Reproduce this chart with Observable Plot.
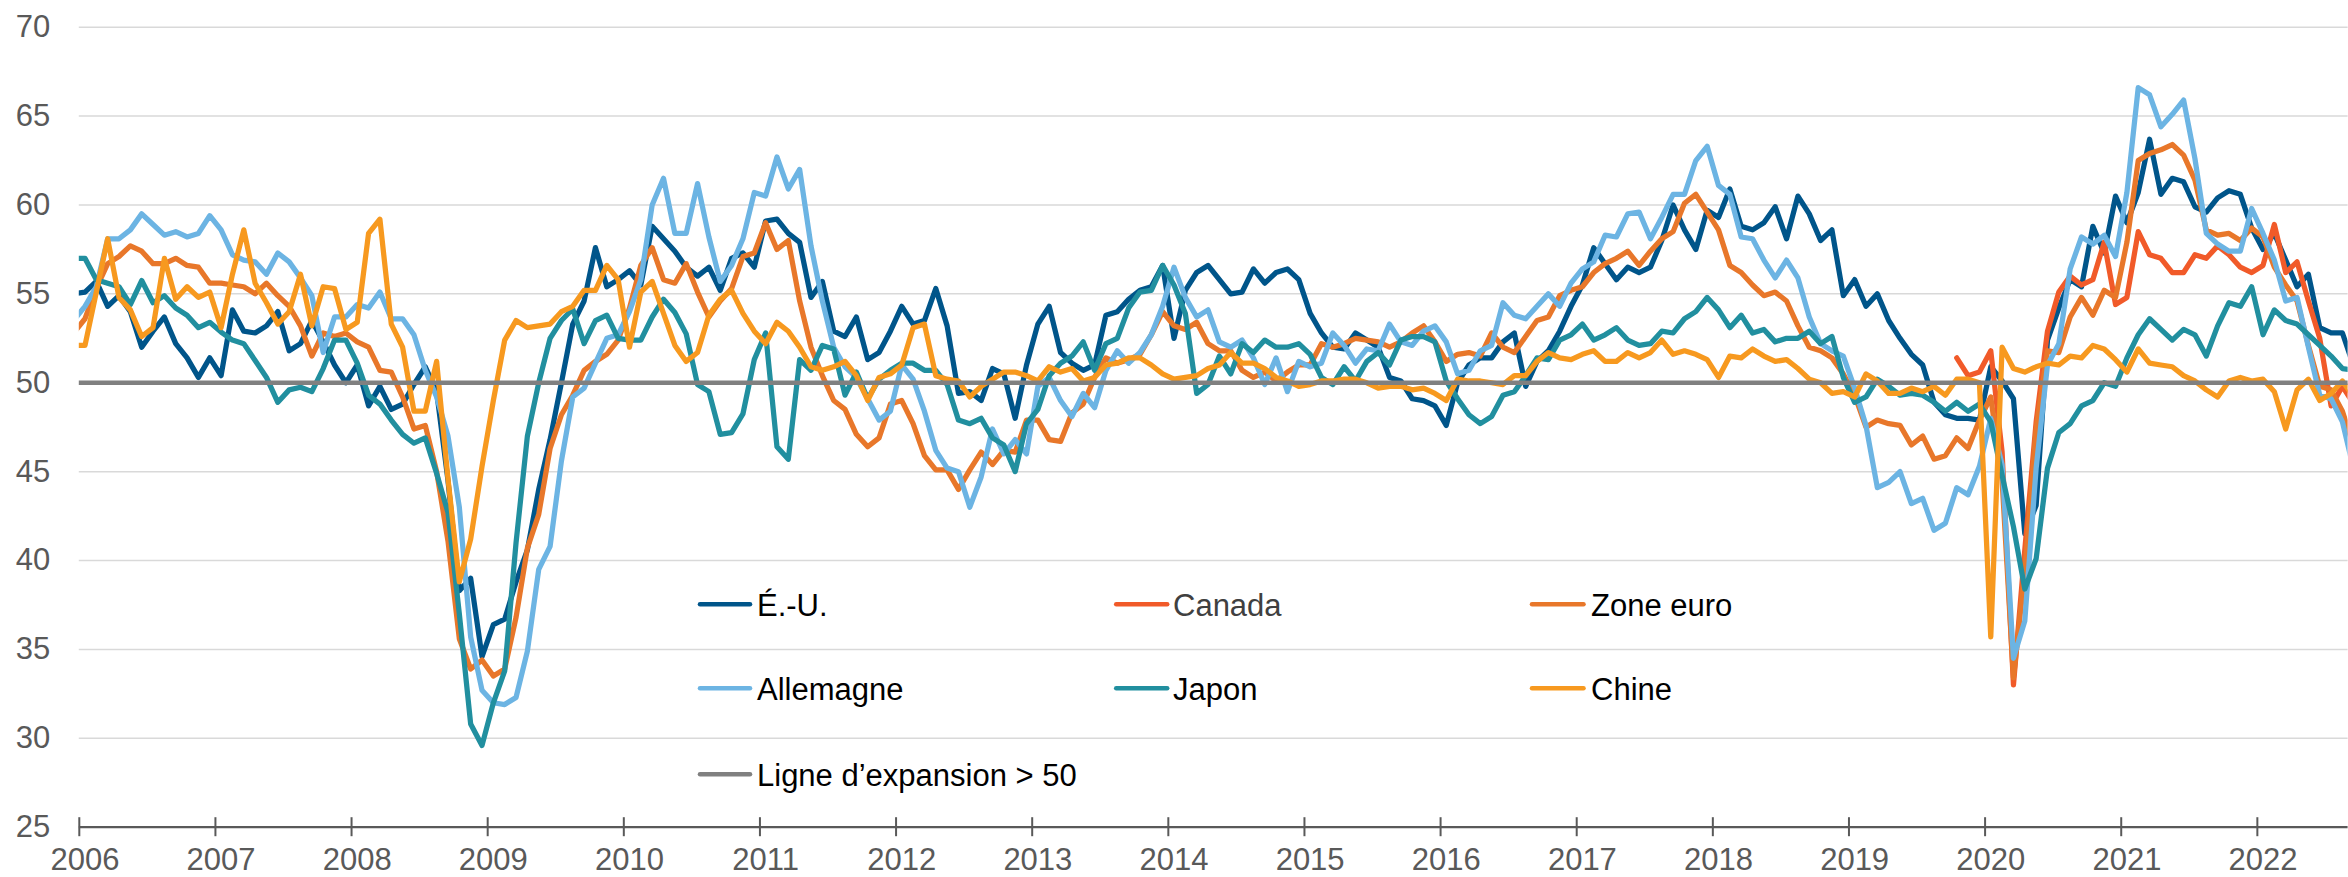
<!DOCTYPE html>
<html>
<head>
<meta charset="utf-8">
<script src="https://cdn.jsdelivr.net/npm/d3@7"></script>
<script src="https://cdn.jsdelivr.net/npm/@observablehq/plot@0.6"></script>
<style>
html, body { margin: 0; padding: 0; background: #fff; overflow: hidden; }
#chart { position: relative; width: 2348px; height: 877px; }
#chart svg { overflow: hidden; }
</style>
</head>
<body>
<div id="chart"></div>
<script>
// Monthly manufacturing PMI values, one per month slot, first slot = Dec 2005 (index -1), Jan 2006 = 0
const firstSlot = -1;

const usValues = [
  55.0,
  55.1, 55.7, 54.3, 54.9, 54.0, 52.0, 52.9, 53.7, 52.2, 51.4, 50.3, 51.4,
  50.4, 54.1, 52.9, 52.8, 53.2, 54.0, 51.8, 52.2, 53.5, 52.3, 51.0, 50.0,
  51.0, 48.7, 49.8, 48.5, 48.8, 49.9, 50.9, 49.5, 44.5, 38.3, 39.0, 34.6,
  36.4, 36.7, 38.8, 40.6, 44.0, 46.8, 50.0, 53.3, 54.6, 57.6, 55.4, 55.8,
  56.3, 55.5, 58.8, 58.1, 57.4, 56.5, 56.0, 56.5, 55.2, 57.0, 57.3, 56.5,
  59.1, 59.2, 58.4, 57.9, 54.8, 55.7, 52.9, 52.6, 53.7, 51.3, 51.7, 52.9,
  54.3, 53.3, 53.5, 55.3, 53.2, 49.4, 49.5, 49.0, 50.8, 50.5, 48.0, 51.0,
  53.3, 54.3, 51.7, 51.1, 50.7, 51.0, 53.8, 54.0, 54.7, 55.2, 55.4, 56.6,
  52.5, 55.2, 56.2, 56.6, 55.8, 55.0, 55.1, 56.4, 55.6, 56.2, 56.4, 55.8,
  53.9, 52.8, 52.0, 51.9, 52.8, 52.4, 52.0, 50.3, 50.1, 49.1, 49.0, 48.7,
  47.6, 50.0, 51.0, 51.4, 51.4, 52.3, 52.8, 49.8, 51.2, 51.8, 52.9, 54.3,
  55.5, 57.6, 56.7, 55.8, 56.5, 56.2, 56.5, 58.0, 60.0, 58.6, 57.5, 59.7,
  59.3, 60.9, 58.8, 58.6, 59.0, 59.9, 58.1, 60.5, 59.5, 58.0, 58.6, 54.9,
  55.8, 54.3, 55.0, 53.5, 52.5, 51.6, 51.0, 48.9, 48.2, 48.0, 48.0, 47.9,
  50.9, 50.1, 49.1, 41.5, 43.1, 52.4, 54.2, 55.8, 55.4, 58.8, 57.3, 60.5,
  59.0, 60.7, 63.7, 60.6, 61.5, 61.3, 59.9, 59.6, 60.4, 60.8, 60.6, 58.7,
  57.5, 58.4, 56.9, 55.4, 56.1, 53.1, 52.8, 52.8, 50.9
];

const canadaStartSlot = 165; // Oct 2019
const canadaValues = [
  51.4, 50.4, 50.6,
  51.8, 46.1, 33.0, 40.6, 47.8, 52.9, 55.1, 56.0, 55.5, 55.8, 57.9, 54.4,
  54.8, 58.5, 57.2, 57.0, 56.2, 56.2, 57.2, 57.0, 57.7, 57.2, 56.5, 56.2,
  56.6, 58.9, 56.2, 56.8, 54.6, 52.5, 48.7, 49.8, 48.8
];

const euroValues = [
  52.8,
  53.6, 55.3, 56.7, 57.1, 57.7, 57.4, 56.7, 56.7, 57.0, 56.6, 56.5, 55.6,
  55.6, 55.5, 55.4, 55.0, 55.6, 54.9, 54.3, 53.2, 51.5, 52.8, 52.6, 52.8,
  52.3, 52.0, 50.7, 50.6, 49.2, 47.4, 47.6, 45.0, 41.1, 35.6, 33.9, 34.4,
  33.5, 33.9, 36.8, 40.7, 42.6, 46.3, 48.2, 49.3, 50.7, 51.2, 51.6, 52.4,
  54.2, 56.6, 57.6, 55.8, 55.6, 56.7, 55.1, 53.7, 54.6, 55.3, 57.1, 57.3,
  59.0, 57.5, 58.0, 54.6, 52.0, 50.4, 49.0, 48.5, 47.1, 46.4, 46.9, 48.8,
  49.0, 47.7, 45.9, 45.1, 45.1, 44.0, 45.1, 46.1, 45.4, 46.2, 46.1, 47.9,
  47.9, 46.8, 46.7, 48.3, 48.8, 50.3, 51.4, 51.1, 51.3, 51.6, 52.7, 54.0,
  53.2, 53.0, 53.4, 52.2, 51.8, 51.8, 50.7, 50.3, 50.6, 50.1, 50.6, 51.0,
  51.0, 52.2, 52.0, 52.2, 52.5, 52.4, 52.3, 52.0, 52.3, 52.8, 53.2, 52.3,
  51.2, 51.6, 51.7, 51.5, 52.8, 52.0, 51.7, 52.6, 53.5, 53.7, 54.9, 55.2,
  55.4, 56.2, 56.7, 57.0, 57.4, 56.6, 57.4, 58.1, 58.5, 60.1, 60.6, 59.6,
  58.6, 56.6, 56.2, 55.5, 54.9, 55.1, 54.6, 53.2, 52.0, 51.8, 51.4, 50.5,
  49.3, 47.5, 47.9, 47.7, 47.6, 46.5, 47.0, 45.7, 45.9, 46.9, 46.3, 47.9,
  49.2, 44.5, 33.4, 39.4, 47.4, 51.8, 51.7, 53.7, 54.8, 53.8, 55.2, 54.8,
  57.9, 62.5, 62.9, 63.1, 63.4, 62.8, 61.4, 58.6, 58.3, 58.4, 58.0, 58.7,
  58.2, 56.5, 55.5, 54.6, 52.1, 49.8, 49.6, 48.4, 46.4
];

const germanyValues = [
  53.5,
  54.3, 55.4, 58.1, 58.1, 58.6, 59.5, 58.9, 58.3, 58.5, 58.2, 58.4, 59.4,
  58.6, 57.2, 56.9, 56.8, 56.1, 57.3, 56.8, 55.9, 54.9, 51.7, 53.7, 53.7,
  54.4, 54.2, 55.1, 53.6, 53.6, 52.7, 50.7, 49.2, 47.0, 43.0, 35.7, 32.7,
  32.0, 31.9, 32.3, 34.9, 39.5, 40.8, 45.6, 49.2, 49.7, 51.1, 52.5, 52.7,
  54.0, 55.8, 60.0, 61.5, 58.4, 58.4, 61.2, 58.2, 55.7, 56.6, 58.1, 60.7,
  60.5, 62.7, 60.9, 62.0, 57.7, 54.6, 52.0, 50.9, 50.3, 49.1, 47.9, 48.4,
  51.0, 50.2, 48.4, 46.2, 45.2, 45.0, 43.0, 44.7, 47.4, 46.0, 46.8, 46.0,
  49.8, 50.3, 49.0, 48.1, 49.4, 48.6, 50.7, 51.8, 51.1, 51.7, 52.7, 54.3,
  56.5, 54.8, 53.7, 54.1, 52.3, 52.0, 52.4, 51.4, 49.9, 51.4, 49.5, 51.2,
  50.9, 51.1, 52.8, 52.1, 51.1, 51.9, 51.8, 53.3, 52.3, 52.1, 52.9, 53.2,
  52.3, 50.5, 50.7, 51.8, 52.1, 54.5, 53.8, 53.6, 54.3, 55.0, 54.3, 55.6,
  56.4, 56.8, 58.3, 58.2, 59.5, 59.6, 58.1, 59.3, 60.6, 60.6, 62.5, 63.3,
  61.1, 60.6, 58.2, 58.1, 56.9, 55.9, 56.9, 55.9, 53.7, 52.2, 51.8, 51.5,
  49.7, 47.6, 44.1, 44.4, 45.0, 43.2, 43.5, 41.7, 42.1, 44.1, 43.7, 45.3,
  48.0, 45.4, 34.5, 36.6, 45.2, 51.0, 52.2, 56.4, 58.2, 57.8, 58.3, 57.1,
  60.7, 66.6, 66.2, 64.4, 65.1, 65.9, 62.6, 58.4, 57.8, 57.4, 57.4, 59.8,
  58.4, 56.9, 54.6, 54.8, 52.0, 49.3, 49.1, 47.8, 45.1
];

const japanValues = [
  57.0,
  57.0, 55.8, 55.6, 55.4, 54.4, 55.75, 54.5, 54.9, 54.2, 53.8, 53.1, 53.4,
  52.85, 52.4, 52.2, 51.25, 50.3, 48.9, 49.6, 49.75, 49.5, 50.8, 52.4, 52.4,
  51.1, 49.3, 48.8, 47.9, 47.1, 46.6, 46.9, 44.9, 42.7, 37.0, 30.8, 29.6,
  32.0, 33.8, 41.0, 47.0, 50.0, 52.5, 53.5, 54.15, 52.2, 53.5, 53.8, 52.5,
  52.4, 52.4, 53.7, 54.7, 53.95, 52.75, 49.9, 49.5, 47.1, 47.2, 48.25, 51.3,
  52.8, 46.4, 45.7, 51.3, 50.7, 52.1, 51.9, 49.3, 50.6, 49.1, 50.2, 50.7,
  51.1, 51.1, 50.7, 50.7, 49.9, 47.9, 47.7, 48.0, 46.9, 46.5, 45.0, 47.7,
  48.5, 50.4, 51.1, 51.5, 52.3, 50.7, 52.2, 52.5, 54.2, 55.1, 55.2, 56.6,
  55.5, 53.9, 49.4, 49.9, 51.5, 50.5, 52.2, 51.7, 52.4, 52.0, 52.0, 52.2,
  51.6, 50.3, 49.9, 50.9, 50.1, 51.2, 51.7, 51.0, 52.4, 52.6, 52.6, 52.3,
  50.1, 49.1, 48.2, 47.7, 48.1, 49.3, 49.5, 50.4, 51.4, 51.3, 52.4, 52.7,
  53.3, 52.4, 52.7, 53.1, 52.4, 52.1, 52.2, 52.9, 52.8, 53.6, 54.0, 54.8,
  54.1, 53.1, 53.8, 52.8, 53.0, 52.3, 52.5, 52.5, 52.9, 52.2, 52.6, 50.3,
  48.9, 49.2, 50.2, 49.8, 49.3, 49.4, 49.3, 48.9, 48.4, 48.9, 48.4, 48.8,
  47.8, 44.8, 41.9, 38.4, 40.1, 45.2, 47.2, 47.7, 48.7, 49.0, 50.0, 49.8,
  51.4, 52.7, 53.6, 53.0, 52.4, 53.0, 52.7, 51.5, 53.2, 54.5, 54.3, 55.4,
  52.7, 54.1, 53.5, 53.3, 52.7, 52.1, 51.5, 50.8, 50.7
];

const chinaValues = [
  52.1,
  52.1, 55.1, 58.1, 54.8, 54.1, 52.6, 53.1, 57.0, 54.7, 55.4, 54.8, 55.1,
  53.1, 56.1, 58.6, 55.6, 54.5, 53.3, 54.0, 56.1, 53.2, 55.4, 55.3, 53.0,
  53.4, 58.4, 59.2, 53.3, 52.0, 48.4, 48.4, 51.2, 44.6, 38.8, 41.2, 45.3,
  49.0, 52.4, 53.5, 53.1, 53.2, 53.3, 54.0, 54.3, 55.2, 55.2, 56.6, 55.8,
  52.0, 55.1, 55.7, 53.9, 52.1, 51.2, 51.7, 53.8, 54.7, 55.2, 53.9, 52.9,
  52.2, 53.4, 52.9, 52.0, 50.9, 50.7, 50.9, 51.2, 50.4, 49.0, 50.3, 50.5,
  51.0, 53.1, 53.3, 50.4, 50.2, 50.1, 49.2, 49.8, 50.2, 50.6, 50.6, 50.4,
  50.1, 50.9, 50.6, 50.8, 50.1, 50.3, 51.0, 51.1, 51.4, 51.4, 51.0, 50.5,
  50.2, 50.3, 50.4, 50.8, 51.0, 51.7, 51.1, 51.1, 50.8, 50.3, 50.1, 49.8,
  49.9, 50.1, 50.1, 50.2, 50.2, 50.0, 49.7, 49.8, 49.8, 49.6, 49.7, 49.4,
  49.0, 50.2, 50.1, 50.1, 50.0, 49.9, 50.4, 50.4, 51.2, 51.7, 51.4, 51.3,
  51.6, 51.8, 51.2, 51.2, 51.7, 51.4, 51.7, 52.4, 51.6, 51.8, 51.6, 51.3,
  50.3, 51.5, 51.4, 51.9, 51.5, 51.2, 51.3, 50.8, 50.2, 50.0, 49.4, 49.5,
  49.2, 50.5, 50.1, 49.4, 49.4, 49.7, 49.5, 49.8, 49.3, 50.2, 50.2, 50.0,
  35.7, 52.0, 50.8, 50.6, 50.9, 51.1, 51.0, 51.5, 51.4, 52.1, 51.9, 51.3,
  50.6, 51.9, 51.1, 51.0, 50.9, 50.4, 50.1, 49.6, 49.2, 50.1, 50.3, 50.1,
  50.2, 49.5, 47.4, 49.6, 50.2, 49.0, 49.4, 50.1, 49.2
];

const expansionLevel = 50;
const yearLabels = d3.range(2006, 2023);
const yTicks = d3.range(25, 71, 5);

const seriesNames = ["É.-U.", "Canada", "Zone euro", "Allemagne", "Japon", "Chine"];
const seriesColors = ["#00558A", "#F15A29", "#E8772A", "#6CB4E3", "#218F9F", "#F7991F"];
const seriesValues = [usValues, canadaValues, euroValues, germanyValues, japanValues, chinaValues];
const seriesStarts = [firstSlot, canadaStartSlot, firstSlot, firstSlot, firstSlot, firstSlot];
const expansionLabel = "Ligne d\u2019expansion > 50";
const expansionColor = "#808080";

const rows = seriesNames.map((name, k) =>
  seriesValues[k].map((v, i) => ({series: name, slot: seriesStarts[k] + i + 0.5, value: v}))
);

const font = "'Liberation Sans', Arial, Helvetica, sans-serif";
const W = 2348, H = 877;
const mLeft = 78.8, mTop = 26.7, mBottom = 50.3;
const slots = 200; // Jan 2006 .. Aug 2022 slots inside the plot area
const mRight = W - (mLeft + slots * 11.344);
const pxPerUnit = (H - mTop - mBottom) / 45;

const plot = Plot.plot({
  width: W,
  height: H,
  marginLeft: mLeft,
  marginRight: mRight,
  marginTop: mTop,
  marginBottom: mBottom,
  x: {type: "linear", domain: [0, slots], axis: null},
  y: {type: "linear", domain: [25, 70], axis: null},
  style: {fontFamily: font, background: "#fff", overflow: "hidden"},
  marks: [
    Plot.ruleY(yTicks.filter(d => d > 25 && d !== expansionLevel), {stroke: "#D9D9D9", strokeWidth: 1.5}),
    Plot.ruleY([25], {stroke: "#595959", strokeWidth: 2.3}),
    Plot.ruleX(yearLabels, {x: d => (d - 2006) * 12, y1: 25 - 9.5 / pxPerUnit, y2: 25 + 9.5 / pxPerUnit, stroke: "#595959", strokeWidth: 2}),
    Plot.text(yearLabels, {x: d => (d - 2006) * 12 + 0.5, y: 25, text: d => String(d), lineAnchor: "bottom", dy: 43, fontSize: 31, fill: "#595959", fontFamily: font}),
    Plot.text(yTicks, {y: d => d, text: d => String(d), frameAnchor: "left", textAnchor: "end", lineAnchor: "middle", dx: -29, fontSize: 31, fill: "#595959", fontFamily: font}),
    ...rows.map((data, k) => Plot.line(data, {
      x: "slot", y: "value", stroke: seriesColors[k], strokeWidth: 5.25,
      strokeLinejoin: "round", strokeLinecap: "round", clip: true
    })),
    Plot.ruleY([expansionLevel], {stroke: expansionColor, strokeWidth: 4.5})
  ]
});

document.getElementById("chart").appendChild(plot);

// Legend (inside the plot area, 3 columns x 3 rows)
const legendItems = seriesNames.map((name, k) => ({label: name, color: seriesColors[k], col: k % 3, row: Math.floor(k / 3), textColor: name === "Canada" ? "#404040" : "#000"}))
  .concat([{label: expansionLabel, color: expansionColor, col: 0, row: 2, textColor: "#000"}]);
const colLine = [[700, 750], [1116.2, 1167.2], [1532, 1583.5]];
const colText = [757, 1173, 1591];
const rowY = [604.3, 688.3, 774.3];

const g = d3.select(plot).append("g")
  .attr("font-family", font)
  .attr("font-size", 31)
  .attr("text-anchor", "start");
legendItems.forEach(it => {
  const y = rowY[it.row];
  g.append("line")
    .attr("x1", colLine[it.col][0]).attr("x2", colLine[it.col][1])
    .attr("y1", y).attr("y2", y)
    .attr("stroke", it.color).attr("stroke-width", 4.5).attr("stroke-linecap", "round");
  g.append("text")
    .attr("x", colText[it.col]).attr("y", y + 11.5)
    .attr("text-anchor", "start")
    .attr("fill", it.textColor)
    .text(it.label);
});
</script>
</body>
</html>
